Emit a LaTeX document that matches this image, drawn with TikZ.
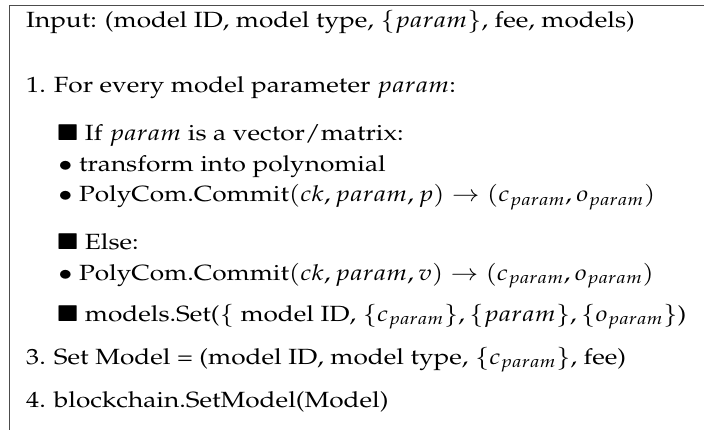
\documentclass[tikz,border=0pt]{standalone}
\usepackage[T1]{fontenc}
\usepackage{mathpazo}
\usepackage{amssymb}
\newcommand{\wide}[1]{\scalebox{1.19}[1]{#1}}
\begin{document}
\begin{tikzpicture}[x=1pt,y=-1pt,
  txt/.style={anchor=base west, inner sep=0pt, font=\fontsize{22}{26}\selectfont},
  framel/.style={draw=black!70, line width=1pt}]
\useasboundingbox (0,0) rectangle (704,430);
\coordinate (tr) at (704,6);
\coordinate (tl) at (9,6);
\coordinate (bl) at (9,430);
\draw[framel] (tr) -- (tl) -- (bl);
\node[txt] (in) at (26,28) {\wide{Input: (model ID, model type, $\{param\}$, fee, models)}};
\node[txt] (s1) at (26,93) {\wide{1. For every model parameter $param$:}};
\node[txt] (if) at (57,141) {\wide{$\blacksquare$ If $param$ is a vector/matrix:}};
\node[txt] (tf) at (58,172) {\wide{$\bullet$ transform into polynomial}};
\node[txt] (pc1) at (58,202) {\wide{$\bullet$ PolyCom.Commit$(ck, param, p) \to (c_{param}, o_{param})$}};
\node[txt] (el) at (57,250) {\wide{$\blacksquare$ Else:}};
\node[txt] (pc2) at (58,280) {\wide{$\bullet$ PolyCom.Commit$(ck, param, v) \to (c_{param}, o_{param})$}};
\node[txt] (ms) at (57,321) {\wide{$\blacksquare$ models.Set($\{$ model ID, $\{c_{param}\}, \{param\}, \{o_{param}\}$)}};
\node[txt] (s3) at (26,364) {\wide{3. Set Model = (model ID, model type, $\{c_{param}\}$, fee)}};
\node[txt] (s4) at (26,407) {\wide{4. blockchain.SetModel(Model)}};
\end{tikzpicture}
\end{document}
